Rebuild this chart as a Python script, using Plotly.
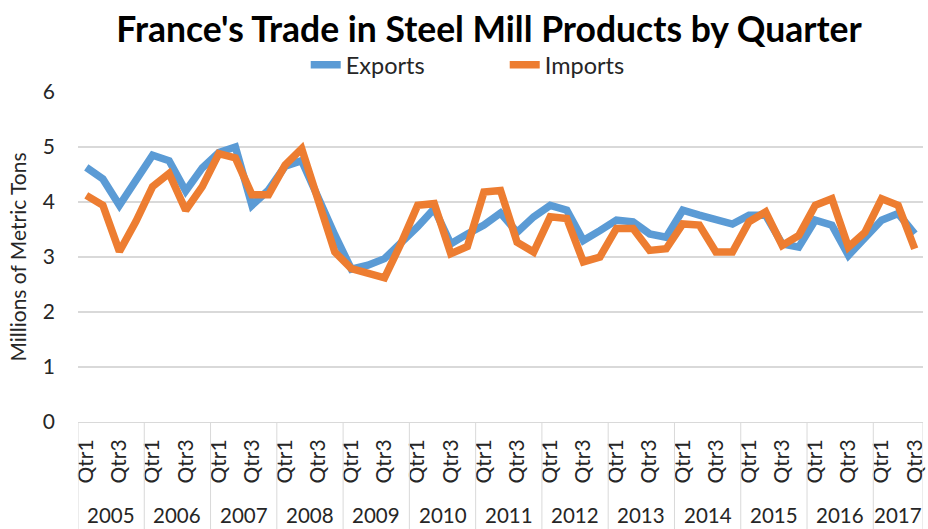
import plotly.graph_objects as go

years = ["2005", "2006", "2007", "2008", "2009", "2010", "2011",
         "2012", "2013", "2014", "2015", "2016", "2017"]
quarters = ["Qtr1", "Qtr2", "Qtr3", "Qtr4"]

exports = [
    4.63, 4.42, 3.94, 4.40,
    4.85, 4.75, 4.20, 4.62,
    4.90, 5.00, 3.94, 4.22,
    4.65, 4.75, 4.05, 3.40,
    2.78, 2.85, 2.97, 3.24,
    3.55, 3.88, 3.24, 3.42,
    3.58, 3.80, 3.45, 3.73,
    3.94, 3.85, 3.30, 3.48,
    3.67, 3.64, 3.42, 3.36,
    3.85, 3.76, 3.67, 3.60,
    3.76, 3.76, 3.24, 3.18,
    3.67, 3.58, 3.03, 3.33,
    3.67, 3.79, 3.42,
]
imports = [
    4.12, 3.94, 3.10, 3.65,
    4.28, 4.52, 3.85, 4.28,
    4.88, 4.80, 4.13, 4.13,
    4.67, 4.97, 4.03, 3.09,
    2.79, 2.72, 2.62, 3.25,
    3.94, 3.97, 3.06, 3.19,
    4.18, 4.21, 3.27, 3.09,
    3.73, 3.70, 2.91, 3.00,
    3.52, 3.52, 3.12, 3.15,
    3.60, 3.58, 3.09, 3.09,
    3.64, 3.82, 3.21, 3.39,
    3.94, 4.06, 3.18, 3.45,
    4.06, 3.94, 3.15,
]
shown_quarters = ["Qtr1", "Qtr3"]

periods = [(y, q) for y in years for q in quarters][:len(exports)]
x = list(range(len(periods)))
tickvals = [i for i, (y, q) in enumerate(periods) if q in shown_quarters]
ticktext = [periods[i][1] for i in tickvals]

FONT = "Lato"
TXT = "#262626"

fig = go.Figure()
fig.add_trace(go.Scatter(x=x, y=exports, mode="lines", name="Exports",
                         line=dict(color="#5B9BD5", width=7.5)))
fig.add_trace(go.Scatter(x=x, y=imports, mode="lines", name="Imports",
                         line=dict(color="#ED7D31", width=7.5)))

# year group labels and separators
shapes = []
annotations = []
for yr in years:
    idx = [i for i, (y, q) in enumerate(periods) if y == yr]
    if not idx:
        continue
    annotations.append(dict(x=(idx[0] + idx[-1]) / 2, y=-0.3215, xref="x", yref="paper",
                            text=yr, showarrow=False, yanchor="bottom", borderpad=0,
                            font=dict(family=FONT, size=20.5, color=TXT)))
    shapes.append(dict(type="line", xref="x", yref="paper", x0=idx[0] - 0.5, x1=idx[0] - 0.5,
                       y0=0, y1=-0.33, line=dict(color="#d9d9d9", width=1)))
shapes.append(dict(type="line", xref="x", yref="paper", x0=len(x) - 0.5, x1=len(x) - 0.5,
                   y0=0, y1=-0.33, line=dict(color="#d9d9d9", width=1)))

fig.update_layout(
    width=928, height=529,
    margin=dict(l=78, r=5, t=92, b=107, autoexpand=False),
    paper_bgcolor="white", plot_bgcolor="white",
    font=dict(family=FONT, color=TXT),
    title=dict(text="<b>France's Trade in Steel Mill Products by Quarter</b>",
               x=0.527, xanchor="center", xref="container",
               y=1 - 30 / 529, yanchor="middle", yref="container",
               font=dict(family=FONT, size=35.5, color="#000000")),
    legend=dict(orientation="h", x=0.505, xanchor="center", y=1.082, yanchor="middle",
                font=dict(family=FONT, size=23.5, color=TXT),
                entrywidth=154, bgcolor="rgba(0,0,0,0)"),
    xaxis=dict(range=[-0.5, len(x) - 0.5], tickmode="array", tickvals=tickvals,
               ticktext=ticktext, tickangle=-90, showgrid=False, zeroline=False,
               showline=True, linecolor="#d9d9d9", linewidth=1, ticks="",
               automargin=False,
               ticklabelstandoff=8, tickfont=dict(family=FONT, size=21, color=TXT)),
    yaxis=dict(range=[0, 6], dtick=1, showgrid=True, gridcolor="#d9d9d9", gridwidth=1.5,
               zeroline=False, showline=False, ticks="", ticklabelstandoff=22,
               automargin=False,
               tickfont=dict(family=FONT, size=21, color=TXT),
               title=dict(text="Millions of Metric Tons", standoff=10,
                          font=dict(family=FONT, size=21, color=TXT))),
    shapes=shapes, annotations=annotations,
)

fig.write_html("out.html", config={"displayModeBar": False},
               post_script="document.body.style.margin='0';document.body.style.padding='0';")
